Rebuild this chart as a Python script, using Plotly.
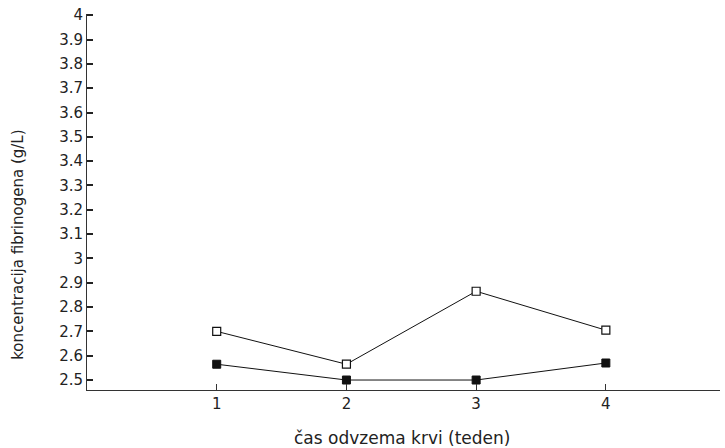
import plotly.graph_objects as go

weeks = [1, 2, 3, 4]
open_series = [2.70, 2.565, 2.865, 2.705]
filled_series = [2.565, 2.50, 2.50, 2.57]
y_ticks = [2.5, 2.6, 2.7, 2.8, 2.9, 3.0, 3.1, 3.2, 3.3, 3.4, 3.5, 3.6, 3.7, 3.8, 3.9, 4.0]
y_labels = ["2.5", "2.6", "2.7", "2.8", "2.9", "3", "3.1", "3.2", "3.3", "3.4", "3.5", "3.6", "3.7", "3.8", "3.9", "4"]
x_title = "čas odvzema krvi (teden)"
y_title = "koncentracija fibrinogena (g/L)"

fig = go.Figure()
fig.add_trace(go.Scatter(x=weeks, y=open_series, mode="lines+markers",
                         line=dict(color="#111", width=1),
                         marker=dict(symbol="square", size=8, color="white",
                                     line=dict(color="#111", width=1.2)),
                         showlegend=False))
fig.add_trace(go.Scatter(x=weeks, y=filled_series, mode="lines+markers",
                         line=dict(color="#111", width=1),
                         marker=dict(symbol="square", size=8, color="#111",
                                     line=dict(color="#111", width=1)),
                         showlegend=False))

fam = "DejaVu Sans, sans-serif"
tickfont = dict(family=fam, size=15, color="#222")
fig.update_layout(
    width=725, height=448,
    margin=dict(l=87, r=5, t=14, b=58),
    paper_bgcolor="white", plot_bgcolor="white",
    font=tickfont,
    xaxis=dict(range=[0.0, 4.88], tickvals=weeks, ticktext=[str(w) for w in weeks],
               showgrid=False, zeroline=False, showline=True, linecolor="#333", linewidth=1,
               ticks="inside", ticklen=6, tickwidth=1, tickcolor="#333", tickfont=tickfont),
    yaxis=dict(range=[2.459, 4.005], tickvals=y_ticks, ticktext=y_labels,
               showgrid=False, zeroline=False, showline=True, linecolor="#333", linewidth=1,
               ticks="inside", ticklen=6, tickwidth=2, tickcolor="#222", tickfont=tickfont),
    annotations=[
        dict(text=x_title, xref="paper", yref="paper", x=0.498, y=-0.128,
             xanchor="center", yanchor="middle", showarrow=False,
             font=dict(family=fam, size=17, color="#222")),
        dict(text=y_title, xref="paper", yref="paper", x=-0.109, y=0.386,
             xanchor="center", yanchor="middle", showarrow=False, textangle=-90,
             font=dict(family=fam, size=15, color="#222")),
    ],
)
fig.write_html("out.html")
